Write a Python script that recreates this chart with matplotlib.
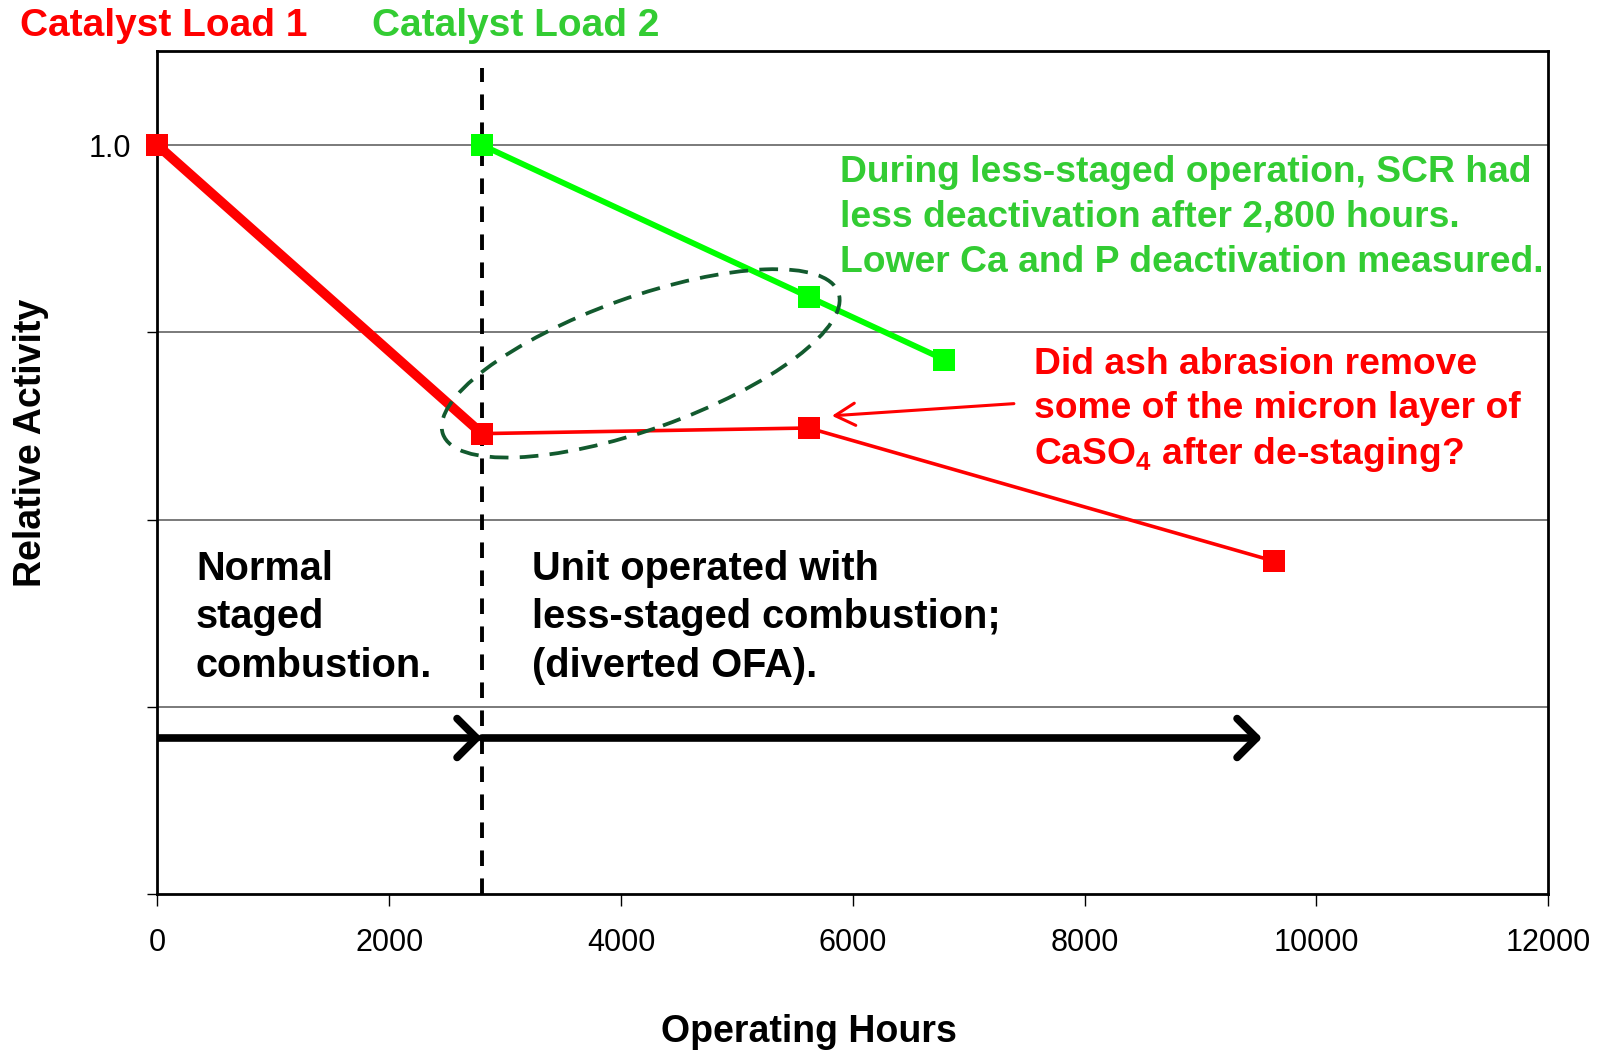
import matplotlib
matplotlib.use("Agg")
import matplotlib.pyplot as plt
import matplotlib.transforms as mtransforms
from matplotlib.patches import Ellipse, FancyArrowPatch

plt.rcParams['font.family'] = ['Liberation Sans', 'DejaVu Sans']
plt.rcParams['mathtext.fontset'] = 'custom'
plt.rcParams['mathtext.rm'] = 'Liberation Sans'
plt.rcParams['mathtext.bf'] = 'Liberation Sans:bold'

# data
load1_hours = [0, 2800, 5620, 9630]
load1_activity = [1.0, 0.692, 0.698, 0.556]
load2_hours = [2800, 5620, 6790]
load2_activity = [1.0, 0.838, 0.771]

xticks = [0, 2000, 4000, 6000, 8000, 10000, 12000]
yticks = [0.2, 0.4, 0.6, 0.8, 1.0]
ytick_labels = ['', '', '', '', '1.0']

staging_change = 2800
arrow_end = 9530
arrow_level = 0.367

RED = '#FF0000'
GREEN_LINE = '#00FF00'
GREEN_TEXT = '#33CC33'
DARK_GREEN = '#125A2E'

fig = plt.figure(figsize=(16.06, 10.51), dpi=100)
ax = fig.add_axes([0.098, 0.149, 0.866, 0.802])

ax.set_xlim(0, 12000)
ax.set_ylim(0.2, 1.1)
ax.set_xticks(xticks)
ax.set_xticklabels([str(t) for t in xticks])
ax.set_yticks(yticks)
ax.set_yticklabels(ytick_labels)
ax.tick_params(axis='x', length=8.5, width=1, pad=16, labelsize=22, colors='black')
ax.tick_params(axis='y', length=7, width=1, pad=12, labelsize=22)
for s in ax.spines.values():
    s.set_linewidth(2)
    s.set_color('black')

# horizontal gridlines
for g in yticks[1:]:
    ax.axhline(g, color='#707070', lw=1.3, zorder=1)

# vertical dashed divider
ax.axvline(staging_change, ymin=0, ymax=0.981, color='black', lw=2.8,
           linestyle=(0, (4, 3.2)), zorder=2)

# catalyst load 1: thick first segment, thin after
ax.plot(load1_hours[:2], load1_activity[:2], color=RED, lw=7, zorder=3,
        solid_capstyle='butt')
ax.plot(load1_hours[1:], load1_activity[1:], color=RED, lw=2.6, zorder=3)
ax.plot(load1_hours, load1_activity, 's', color=RED, ms=15.5, mew=0,
        zorder=4, clip_on=False)

# catalyst load 2
ax.plot(load2_hours, load2_activity, color=GREEN_LINE, lw=4.2, zorder=3)
ax.plot(load2_hours, load2_activity, 's', color=GREEN_LINE, ms=15.5, mew=0,
        zorder=4, clip_on=False)

# dashed ellipse (size in pixels, centred on a data point)
ell_trans = mtransforms.ScaledTranslation(4170, 0.767, ax.transData)
ell = Ellipse((0, 0), width=420, height=132, angle=19.7, fill=False,
              edgecolor=DARK_GREEN, lw=2.7, linestyle=(0, (5, 3)),
              transform=ell_trans, zorder=5)
ax.add_patch(ell)

# black timeline arrows
for x0, x1 in [(0, staging_change), (staging_change, arrow_end)]:
    arr = FancyArrowPatch((x0, arrow_level), (x1, arrow_level),
                          arrowstyle='->,head_length=1.0,head_width=1.0',
                          mutation_scale=14, lw=5.5, color='black',
                          shrinkA=0, shrinkB=0, capstyle='round',
                          joinstyle='round', zorder=5)
    ax.add_patch(arr)

# red pointer arrow
ax.annotate('', xy=(5820, 0.711), xytext=(7390, 0.724),
            arrowprops=dict(arrowstyle='->,head_length=1.8,head_width=1.0',
                            color=RED, lw=2.2, mutation_scale=8,
                            shrinkA=0, shrinkB=0))


def px_text(x, y, s, **kw):
    fig.text(x / 1606, 1 - y / 1051, s, **kw)


bold = dict(fontweight='bold', va='center', ha='left')

px_text(20, 26, 'Catalyst Load 1', color=RED, fontsize=28, **bold)
px_text(372, 26, 'Catalyst Load 2', color=GREEN_TEXT, fontsize=28, **bold)

green_lines = ['During less-staged operation, SCR had',
               'less deactivation after 2,800 hours.',
               'Lower Ca and P deactivation measured.']
for i, line in enumerate(green_lines):
    px_text(840, 172 + 45 * i, line, color=GREEN_TEXT, fontsize=26.8, **bold)

red_lines = ['Did ash abrasion remove',
             'some of the micron layer of',
             r'CaSO$_\mathbf{4}$ after de-staging?']
for i, line in enumerate(red_lines):
    px_text(1034, 364 + 45 * i, line, color=RED, fontsize=26.8, **bold)

left_lines = ['Normal', 'staged', 'combustion.']
right_lines = ['Unit operated with', 'less-staged combustion;', '(diverted OFA).']
for i, line in enumerate(left_lines):
    px_text(196, 569 + 48.5 * i, line, color='black', fontsize=28.6, **bold)
for i, line in enumerate(right_lines):
    px_text(532, 569 + 48.5 * i, line, color='black', fontsize=28.6, **bold)

px_text(809, 1032, 'Operating Hours', color='black', fontsize=27,
        fontweight='bold', ha='center', va='center')
fig.text(31 / 1606, 1 - 443 / 1051, 'Relative Activity', color='black',
         fontsize=27, fontweight='bold', ha='center', va='center', rotation=90)

fig.savefig('out.png', dpi=100)
